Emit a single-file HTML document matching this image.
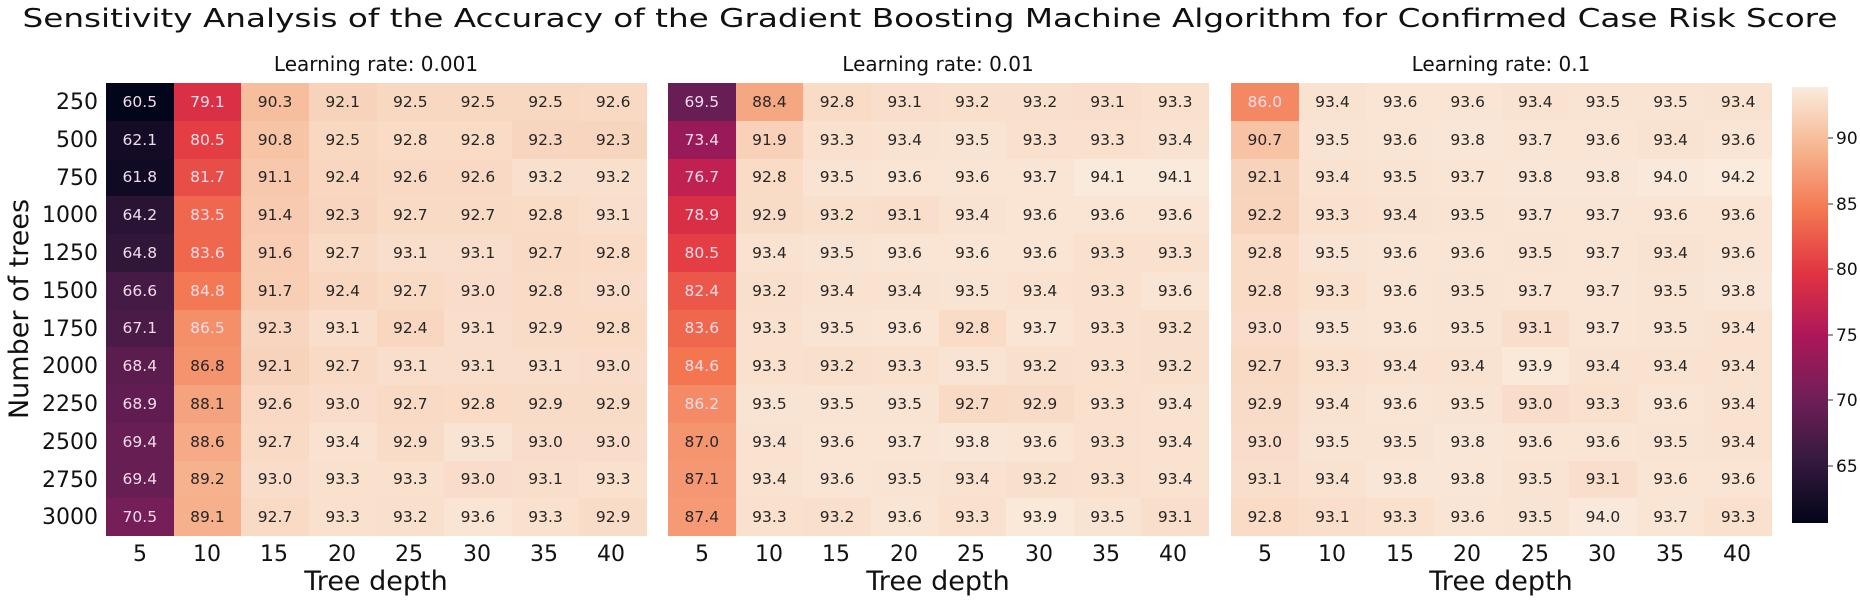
<!DOCTYPE html>
<html><head><meta charset="utf-8"><style>
body{margin:0;width:1860px;height:603px;background:#fff;position:relative;overflow:hidden;font-family:"DejaVu Sans","Liberation Sans",sans-serif}
.hm{position:absolute;top:83px;width:541px;height:453px;display:grid;grid-template-columns:repeat(8,1fr);grid-template-rows:repeat(12,1fr)}
.hm div{display:flex;align-items:center;justify-content:center;font-size:15.5px;color:#222}
svg{position:absolute;left:0;top:0}
#cb{position:absolute;left:1792px;top:87px;width:36px;height:436px}
</style></head><body>
<div class="hm" style="left:106px">
<div>60.5</div><div>79.1</div><div>90.3</div><div>92.1</div><div>92.5</div><div>92.5</div><div>92.5</div><div>92.6</div>
<div>62.1</div><div>80.5</div><div>90.8</div><div>92.5</div><div>92.8</div><div>92.8</div><div>92.3</div><div>92.3</div>
<div>61.8</div><div>81.7</div><div>91.1</div><div>92.4</div><div>92.6</div><div>92.6</div><div>93.2</div><div>93.2</div>
<div>64.2</div><div>83.5</div><div>91.4</div><div>92.3</div><div>92.7</div><div>92.7</div><div>92.8</div><div>93.1</div>
<div>64.8</div><div>83.6</div><div>91.6</div><div>92.7</div><div>93.1</div><div>93.1</div><div>92.7</div><div>92.8</div>
<div>66.6</div><div>84.8</div><div>91.7</div><div>92.4</div><div>92.7</div><div>93.0</div><div>92.8</div><div>93.0</div>
<div>67.1</div><div>86.5</div><div>92.3</div><div>93.1</div><div>92.4</div><div>93.1</div><div>92.9</div><div>92.8</div>
<div>68.4</div><div>86.8</div><div>92.1</div><div>92.7</div><div>93.1</div><div>93.1</div><div>93.1</div><div>93.0</div>
<div>68.9</div><div>88.1</div><div>92.6</div><div>93.0</div><div>92.7</div><div>92.8</div><div>92.9</div><div>92.9</div>
<div>69.4</div><div>88.6</div><div>92.7</div><div>93.4</div><div>92.9</div><div>93.5</div><div>93.0</div><div>93.0</div>
<div>69.4</div><div>89.2</div><div>93.0</div><div>93.3</div><div>93.3</div><div>93.0</div><div>93.1</div><div>93.3</div>
<div>70.5</div><div>89.1</div><div>92.7</div><div>93.3</div><div>93.2</div><div>93.6</div><div>93.3</div><div>92.9</div>
</div>
<div class="hm" style="left:668px">
<div>69.5</div><div>88.4</div><div>92.8</div><div>93.1</div><div>93.2</div><div>93.2</div><div>93.1</div><div>93.3</div>
<div>73.4</div><div>91.9</div><div>93.3</div><div>93.4</div><div>93.5</div><div>93.3</div><div>93.3</div><div>93.4</div>
<div>76.7</div><div>92.8</div><div>93.5</div><div>93.6</div><div>93.6</div><div>93.7</div><div>94.1</div><div>94.1</div>
<div>78.9</div><div>92.9</div><div>93.2</div><div>93.1</div><div>93.4</div><div>93.6</div><div>93.6</div><div>93.6</div>
<div>80.5</div><div>93.4</div><div>93.5</div><div>93.6</div><div>93.6</div><div>93.6</div><div>93.3</div><div>93.3</div>
<div>82.4</div><div>93.2</div><div>93.4</div><div>93.4</div><div>93.5</div><div>93.4</div><div>93.3</div><div>93.6</div>
<div>83.6</div><div>93.3</div><div>93.5</div><div>93.6</div><div>92.8</div><div>93.7</div><div>93.3</div><div>93.2</div>
<div>84.6</div><div>93.3</div><div>93.2</div><div>93.3</div><div>93.5</div><div>93.2</div><div>93.3</div><div>93.2</div>
<div>86.2</div><div>93.5</div><div>93.5</div><div>93.5</div><div>92.7</div><div>92.9</div><div>93.3</div><div>93.4</div>
<div>87.0</div><div>93.4</div><div>93.6</div><div>93.7</div><div>93.8</div><div>93.6</div><div>93.3</div><div>93.4</div>
<div>87.1</div><div>93.4</div><div>93.6</div><div>93.5</div><div>93.4</div><div>93.2</div><div>93.3</div><div>93.4</div>
<div>87.4</div><div>93.3</div><div>93.2</div><div>93.6</div><div>93.3</div><div>93.9</div><div>93.5</div><div>93.1</div>
</div>
<div class="hm" style="left:1231px">
<div>86.0</div><div>93.4</div><div>93.6</div><div>93.6</div><div>93.4</div><div>93.5</div><div>93.5</div><div>93.4</div>
<div>90.7</div><div>93.5</div><div>93.6</div><div>93.8</div><div>93.7</div><div>93.6</div><div>93.4</div><div>93.6</div>
<div>92.1</div><div>93.4</div><div>93.5</div><div>93.7</div><div>93.8</div><div>93.8</div><div>94.0</div><div>94.2</div>
<div>92.2</div><div>93.3</div><div>93.4</div><div>93.5</div><div>93.7</div><div>93.7</div><div>93.6</div><div>93.6</div>
<div>92.8</div><div>93.5</div><div>93.6</div><div>93.6</div><div>93.5</div><div>93.7</div><div>93.4</div><div>93.6</div>
<div>92.8</div><div>93.3</div><div>93.6</div><div>93.5</div><div>93.7</div><div>93.7</div><div>93.5</div><div>93.8</div>
<div>93.0</div><div>93.5</div><div>93.6</div><div>93.5</div><div>93.1</div><div>93.7</div><div>93.5</div><div>93.4</div>
<div>92.7</div><div>93.3</div><div>93.4</div><div>93.4</div><div>93.9</div><div>93.4</div><div>93.4</div><div>93.4</div>
<div>92.9</div><div>93.4</div><div>93.6</div><div>93.5</div><div>93.0</div><div>93.3</div><div>93.6</div><div>93.4</div>
<div>93.0</div><div>93.5</div><div>93.5</div><div>93.8</div><div>93.6</div><div>93.6</div><div>93.5</div><div>93.4</div>
<div>93.1</div><div>93.4</div><div>93.8</div><div>93.8</div><div>93.5</div><div>93.1</div><div>93.6</div><div>93.6</div>
<div>92.8</div><div>93.1</div><div>93.3</div><div>93.6</div><div>93.5</div><div>94.0</div><div>93.7</div><div>93.3</div>
</div>
<div id="cb" style="background:linear-gradient(to top,#03051a 0%,#35193e 14.3%,#701f57 28.6%,#ad1759 42.9%,#e13342 57.1%,#f37651 71.4%,#f6b48f 85.7%,#faebdd 100%)"></div>
<svg width="1860" height="603" font-family="DejaVu Sans, Liberation Sans, sans-serif" fill="#111">
<text x="930" y="27" font-size="26" text-anchor="middle" textLength="1815" lengthAdjust="spacingAndGlyphs">Sensitivity Analysis of the Accuracy of the Gradient Boosting Machine Algorithm for Confirmed Case Risk Score</text>
<g font-size="20" text-anchor="middle">
<text x="376" y="71">Learning rate: 0.001</text>
<text x="938" y="71">Learning rate: 0.01</text>
<text x="1501" y="71">Learning rate: 0.1</text>
</g>
<g font-size="22" text-anchor="end">
<text x="98" y="109">250</text><text x="98" y="147">500</text><text x="98" y="185">750</text><text x="98" y="222">1000</text>
<text x="98" y="260">1250</text><text x="98" y="298">1500</text><text x="98" y="336">1750</text><text x="98" y="373">2000</text>
<text x="98" y="411">2250</text><text x="98" y="449">2500</text><text x="98" y="487">2750</text><text x="98" y="524">3000</text>
</g>
<text transform="translate(28,309) rotate(-90)" font-size="27" text-anchor="middle">Number of trees</text>
<g font-size="27" text-anchor="middle">
<text x="376" y="590">Tree depth</text>
<text x="938" y="590">Tree depth</text>
<text x="1501" y="590">Tree depth</text>
</g>
<g font-size="17">
<line x1="1828" y1="466" x2="1833" y2="466" stroke="#333"/><text x="1836" y="472">65</text>
<line x1="1828" y1="400" x2="1833" y2="400" stroke="#333"/><text x="1836" y="406">70</text>
<line x1="1828" y1="335" x2="1833" y2="335" stroke="#333"/><text x="1836" y="341">75</text>
<line x1="1828" y1="269" x2="1833" y2="269" stroke="#333"/><text x="1836" y="275">80</text>
<line x1="1828" y1="204" x2="1833" y2="204" stroke="#333"/><text x="1836" y="210">85</text>
<line x1="1828" y1="138" x2="1833" y2="138" stroke="#333"/><text x="1836" y="144">90</text>
</g>
<g font-size="22" text-anchor="middle">
<text x="140" y="561">5</text><text x="207" y="561">10</text><text x="274" y="561">15</text><text x="342" y="561">20</text><text x="409" y="561">25</text><text x="477" y="561">30</text><text x="544" y="561">35</text><text x="611" y="561">40</text>
<text x="702" y="561">5</text><text x="769" y="561">10</text><text x="836" y="561">15</text><text x="904" y="561">20</text><text x="971" y="561">25</text><text x="1039" y="561">30</text><text x="1106" y="561">35</text><text x="1173" y="561">40</text>
<text x="1265" y="561">5</text><text x="1332" y="561">10</text><text x="1400" y="561">15</text><text x="1467" y="561">20</text><text x="1535" y="561">25</text><text x="1602" y="561">30</text><text x="1670" y="561">35</text><text x="1737" y="561">40</text>
</g>
</svg>
<script>
var st=[[0,[3,5,26]],[1/7,[53,25,62]],[2/7,[112,31,87]],[3/7,[173,23,89]],[4/7,[225,51,66]],[5/7,[243,118,81]],[6/7,[246,180,143]],[1,[250,235,221]]];
function cm(t){t=Math.max(0,Math.min(1,t));for(var i=1;i<st.length;i++){if(t<=st[i][0]){var a=st[i-1],b=st[i],f=(t-a[0])/(b[0]-a[0]);return a[1].map(function(v,k){return Math.round(v+(b[1][k]-v)*f)})}}return st[st.length-1][1]}
function lin(c){c/=255;return c<=0.03928?c/12.92:Math.pow((c+0.055)/1.055,2.4)}
document.querySelectorAll('.hm div').forEach(function(d){var v=parseFloat(d.textContent);var c=cm((v-60.5)/(94.2-60.5));d.style.background='rgb('+c.join(',')+')';var L=0.2126*lin(c[0])+0.7152*lin(c[1])+0.0722*lin(c[2]);d.style.color=L<0.408?'#f2dcea':'#262626';});
</script>
</body></html>
